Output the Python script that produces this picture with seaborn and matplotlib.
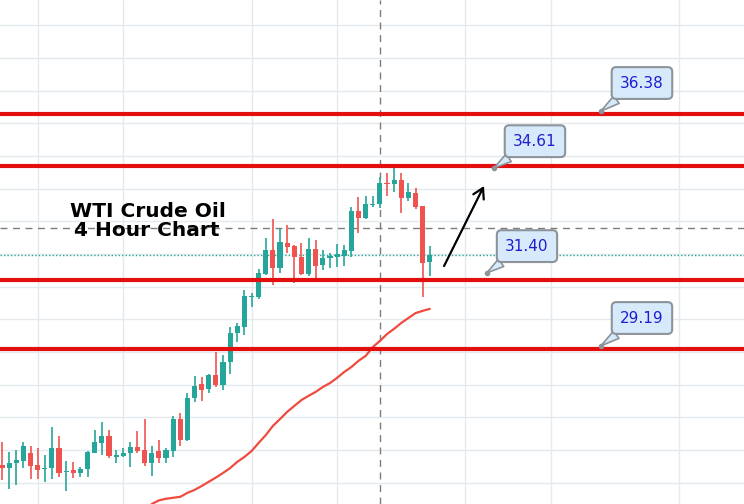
import numpy as np
import pandas as pd
import seaborn as sns
import matplotlib.pyplot as plt

# 4 小时K线
opens = [25.65, 25.55, 25.71, 25.77, 26.01, 25.65, 25.52, 25.55, 26.17, 25.43,
         25.49, 25.40, 25.52, 26.01, 26.32, 26.53, 25.89, 25.92, 26.01, 26.20,
         26.10, 25.71, 26.07, 25.86, 26.07, 27.05, 26.41, 27.70, 28.12, 27.97,
         28.40, 28.09, 28.80, 29.68, 29.87, 30.78, 30.78, 31.49, 32.22, 31.67,
         32.43, 32.34, 32.01, 31.49, 32.25, 31.76, 31.98, 32.01, 32.04, 32.19,
         33.41, 33.20, 33.60, 33.63, 34.27, 34.24, 34.36, 33.81, 33.96, 33.57,
         31.85]
highs = [26.35, 26.04, 26.10, 26.35, 26.23, 26.17, 25.95, 26.81, 26.53, 25.77,
         25.74, 25.58, 26.07, 26.72, 26.96, 26.72, 26.10, 26.17, 26.35, 26.69,
         27.05, 26.23, 26.41, 26.17, 27.14, 27.24, 27.85, 28.37, 28.34, 28.43,
         29.10, 29.01, 29.87, 29.99, 31.00, 30.91, 31.64, 32.59, 33.17, 32.89,
         32.99, 32.37, 32.43, 32.59, 32.53, 32.22, 32.13, 32.40, 32.37, 33.54,
         33.84, 33.87, 33.87, 34.45, 34.58, 34.76, 34.58, 34.27, 34.12, 33.57,
         32.34]
lows = [25.19, 24.91, 25.03, 25.55, 25.22, 25.22, 25.13, 25.22, 25.28, 24.85,
        25.25, 25.28, 25.28, 26.01, 25.95, 25.86, 25.71, 25.89, 25.58, 26.01,
        25.62, 25.31, 25.71, 25.71, 25.89, 26.23, 26.38, 27.57, 27.60, 27.85,
        28.03, 27.94, 28.43, 29.41, 29.62, 30.48, 30.72, 31.46, 31.15, 31.52,
        32.13, 31.21, 31.46, 31.43, 31.30, 31.61, 31.67, 31.70, 31.73, 32.01,
        32.74, 33.17, 33.54, 33.51, 33.87, 33.99, 33.35, 33.72, 33.47, 30.78,
        31.43]
closes = [25.55, 25.71, 25.80, 26.23, 25.62, 25.49, 25.55, 26.17, 25.40, 25.46,
          25.40, 25.52, 26.04, 26.35, 26.53, 25.92, 25.95, 26.01, 26.20, 26.07,
          25.71, 26.01, 25.86, 26.10, 27.05, 26.41, 27.70, 28.06, 27.94, 28.40,
          28.09, 28.80, 29.68, 29.90, 30.81, 30.81, 31.52, 32.22, 31.67, 32.47,
          32.31, 32.01, 31.49, 32.25, 31.73, 31.98, 32.04, 32.10, 32.22, 33.41,
          33.20, 33.63, 33.63, 34.27, 34.24, 34.36, 33.81, 33.99, 33.54, 31.82,
          32.07]

# 均线 (从第21根K线开始)
ma_start = 21
ma_values = [24.45, 24.56, 24.61, 24.64, 24.67, 24.79, 24.88, 25.00, 25.13, 25.26,
             25.40, 25.55, 25.74, 25.89, 26.07, 26.32, 26.56, 26.84, 27.05, 27.27,
             27.45, 27.63, 27.76, 27.88, 28.03, 28.15, 28.31, 28.49, 28.64, 28.83,
             28.98, 29.25, 29.44, 29.65, 29.81, 29.99, 30.14, 30.29, 30.36, 30.42]

# 支撑/阻力位
levels = [36.38, 34.78, 31.30, 29.19]
level_labels = ['36.38', '34.61', '31.40', '29.19']
last_price = 32.07
cross_price = 32.89
cross_bar = 53
day_bars = [5, 17, 35, 47, 65, 77, 95]

sns.set_theme(style='white')
plt.rcParams['font.family'] = ['DejaVu Sans']

df = pd.DataFrame({'open': opens, 'high': highs, 'low': lows, 'close': closes})
df['idx'] = np.arange(len(df))
up = df['close'] >= df['open']
colors = np.where(up, '#26a69a', '#ef5350')
body_bottom = df[['open', 'close']].min(axis=1)
body_height = (df['close'] - df['open']).abs().clip(lower=0.04)

fig = plt.figure(figsize=(7.44, 5.04), dpi=100)
ax = fig.add_axes([0, 0, 1, 1])
ax.set_xlim(-0.28, 104.07)
ax.set_ylim(24.45, 39.87)
ax.set_xticks(day_bars)
ax.set_yticks(np.arange(25.1, 39.2, 1.0))
ax.grid(True, color='#e4e9ee', lw=1)
ax.set_axisbelow(True)
ax.tick_params(length=0, labelbottom=False, labelleft=False)
for s in ax.spines.values():
    s.set_visible(False)

# 十字线和最新价
ax.axvline(cross_bar, color='#7d7d7d', lw=1, ls=(0, (5, 4)), zorder=1)
ax.axhline(cross_price, color='#7d7d7d', lw=1, ls=(0, (5, 4)), zorder=1)
ax.axhline(last_price, color='#26a69a', lw=1, ls=(0, (1, 1.5)), zorder=1)

# K线
ax.vlines(df['idx'], df['low'], df['high'], colors=colors, lw=1.2, zorder=2)
ax.bar(df['idx'], body_height, bottom=body_bottom, width=0.72, color=colors,
       edgecolor=colors, linewidth=0, zorder=2)

# 均线
ma_x = np.arange(ma_start, ma_start + len(ma_values))
sns.lineplot(x=ma_x, y=ma_values, ax=ax, color='#ef4b3f', lw=1.6, zorder=3)

for lv in levels:
    ax.axhline(lv, color='#e30e0e', lw=3, zorder=4)

# 标签
callout_text = [(89.76, 37.33), (74.75, 35.55), (73.63, 32.34), (89.76, 30.14)]
callout_tip = [(84.0, 36.47), (69.0, 34.73), (68.0, 31.52), (84.0, 29.29)]
for lab, tp, pt in zip(level_labels, callout_text, callout_tip):
    ax.annotate(lab, xy=pt, xytext=tp, fontsize=11, color='#1d1dd4',
                ha='center', va='center', zorder=6,
                bbox=dict(boxstyle='round,pad=0.55,rounding_size=0.3',
                          fc='#d6eafb', ec='#8c9399', lw=1.5),
                arrowprops=dict(arrowstyle='wedge,tail_width=0.6', fc='#d6eafb',
                                ec='#8c9399', lw=1.2, shrinkA=0, shrinkB=0,
                                relpos=(0.2, 0.0)))
    ax.plot(pt[0], pt[1], 'o', ms=3, color='#8c9399', zorder=7)

ax.text(20.48, 33.23, 'WTI Crude Oil', fontsize=14.5, fontweight='bold',
        ha='center', va='baseline', color='black', zorder=6)
ax.text(20.34, 32.65, '4 Hour Chart', fontsize=14.5, fontweight='bold',
        ha='center', va='baseline', color='black', zorder=6)

ax.annotate('', xy=(67.6, 34.18), xytext=(62.0, 31.73), zorder=6,
            arrowprops=dict(arrowstyle='->,head_length=0.6,head_width=0.35',
                            color='black', lw=1.6, shrinkA=0, shrinkB=0))

fig.savefig('out.png', dpi=100)
